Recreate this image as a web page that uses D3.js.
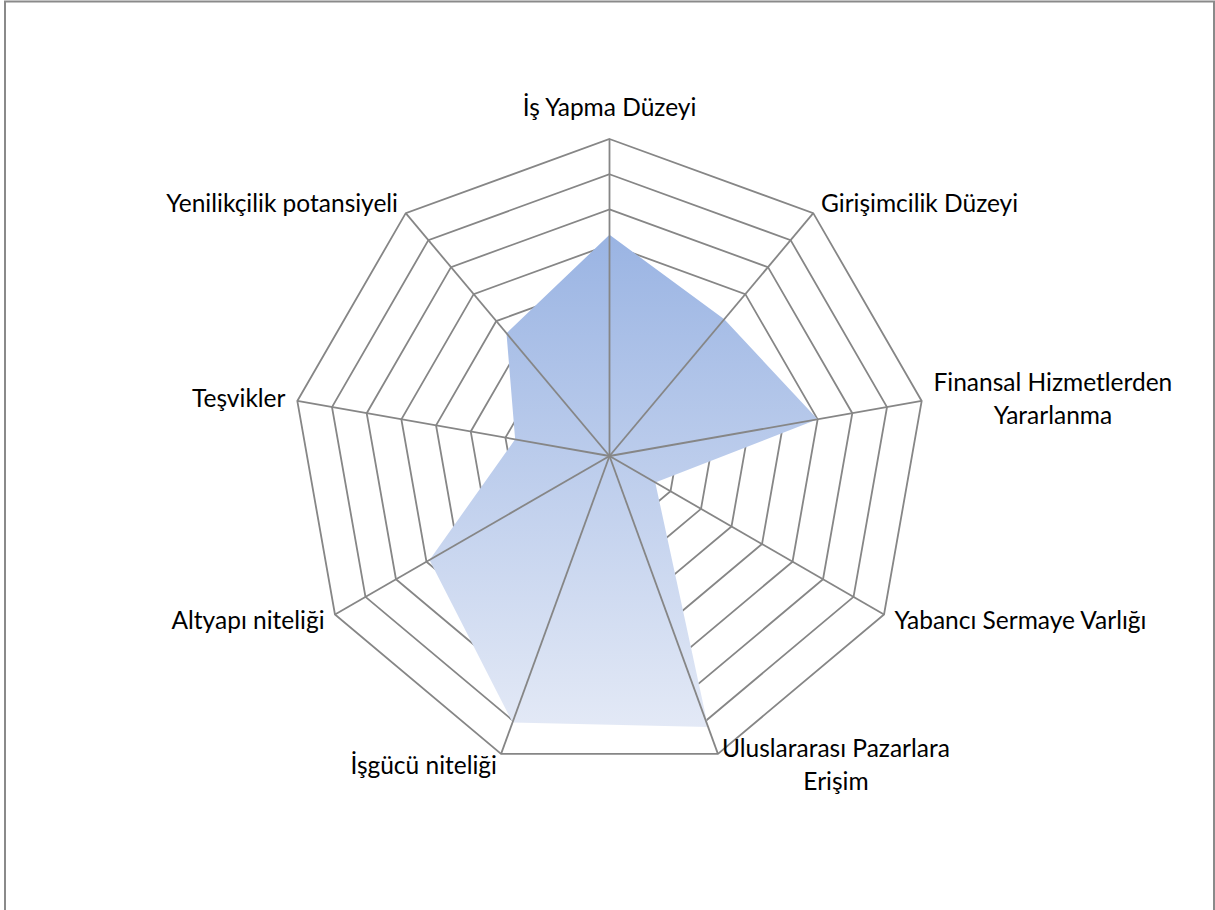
<!DOCTYPE html>
<html lang="tr">
<head>
<meta charset="utf-8">
<script src="https://cdn.jsdelivr.net/npm/d3@7"></script>
<style>
  html, body { margin: 0; padding: 0; background: #fff; }
  svg { display: block; }
  text { font-family: Lato, "Open Sans", sans-serif; fill: #000; }
</style>
</head>
<body>
<svg id="chart" width="1215" height="910"></svg>
<script>
// Radar categories, clockwise from the top (each line is one row of the label)
const categories = [
  ["İş Yapma Düzeyi"],
  ["Girişimcilik Düzeyi"],
  ["Finansal Hizmetlerden", "Yararlanma"],
  ["Yabancı Sermaye Varlığı"],
  ["Uluslararası Pazarlara", "Erişim"],
  ["İşgücü niteliği"],
  ["Altyapı niteliği"],
  ["Teşvikler"],
  ["Yenilikçilik potansiyeli"]
];

// Score for each category
const values = [6.28, 5.07, 6.0, 1.5, 8.19, 8.05, 5.9, 2.72, 4.55];

// Grid rings
const ringTicks = [1, 2, 3, 4, 5, 6, 7, 8, 9];
const scaleMax = 9;

const svg = d3.select("#chart");
const cx = 609.5, cy = 456, R = 317;
const n = categories.length;

const r = d3.scaleLinear().domain([0, scaleMax]).range([0, R]);
const angle = d3.scaleLinear().domain([0, n]).range([0, 2 * Math.PI]);

const pt = (i, v) => {
  const a = angle(i);
  return [cx + r(v) * Math.sin(a), cy - r(v) * Math.cos(a)];
};

// Outer chart frame
svg.append("rect")
  .attr("x", 5).attr("y", 1.5)
  .attr("width", 1209).attr("height", 930)
  .attr("fill", "none")
  .attr("stroke", "#8a8a8a")
  .attr("stroke-width", 2);

const defs = svg.append("defs");
const grad = defs.append("linearGradient")
  .attr("id", "areaFill")
  .attr("x1", 0).attr("y1", 0).attr("x2", 0).attr("y2", 1);
grad.append("stop").attr("offset", "0%").attr("stop-color", "#9ab4e3");
grad.append("stop").attr("offset", "100%").attr("stop-color", "#e3e9f6");

const gridColor = "#868686";
const gridWidth = 1.8;

// Concentric polygon rings
const ringLine = d3.line();
svg.append("g")
  .selectAll("path")
  .data(ringTicks)
  .join("path")
  .attr("d", t => ringLine(d3.range(n).map(i => pt(i, t))) + "Z")
  .attr("fill", "none")
  .attr("stroke", gridColor)
  .attr("stroke-width", gridWidth);

// Filled data area
const area = d3.lineRadial()
  .angle((d, i) => angle(i))
  .radius(d => r(d))
  .curve(d3.curveLinearClosed);

svg.append("path")
  .datum(values)
  .attr("transform", `translate(${cx},${cy})`)
  .attr("d", area)
  .attr("fill", "url(#areaFill)")
  .attr("stroke", "none");

// Spokes drawn over the area
svg.append("g")
  .selectAll("line")
  .data(d3.range(n))
  .join("line")
  .attr("x1", cx).attr("y1", cy)
  .attr("x2", i => pt(i, scaleMax)[0])
  .attr("y2", i => pt(i, scaleMax)[1])
  .attr("stroke", gridColor)
  .attr("stroke-width", gridWidth);

// Category labels placed just outside each spoke
const fontSize = 24.5, lineH = 33, capHalf = 8.5, pad = 12;
const labels = svg.append("g").attr("font-size", fontSize);

categories.forEach((lines, i) => {
  const a = angle(i);
  const s = Math.sin(a), c = Math.cos(a);
  const px = cx + (R + pad) * s;
  const py = cy - (R + pad) * c;

  const g = labels.append("g");
  const texts = lines.map(l => g.append("text").text(l));
  const widths = texts.map(t => t.node().getComputedTextLength());
  const W = d3.max(widths);

  let blockCenterX;
  if (Math.abs(s) < 0.1) blockCenterX = px;
  else if (s > 0) blockCenterX = px + W / 2;
  else blockCenterX = px - W / 2;

  let firstBaseline;
  if (Math.abs(s) < 0.1 && c > 0) {
    firstBaseline = cy - R - 23 - (lines.length - 1) * lineH;
  } else {
    firstBaseline = py - (lines.length - 1) * lineH / 2 + capHalf;
  }

  texts.forEach((t, k) => {
    t.attr("x", blockCenterX)
     .attr("y", firstBaseline + k * lineH)
     .attr("text-anchor", "middle");
  });
});
</script>
</body>
</html>
